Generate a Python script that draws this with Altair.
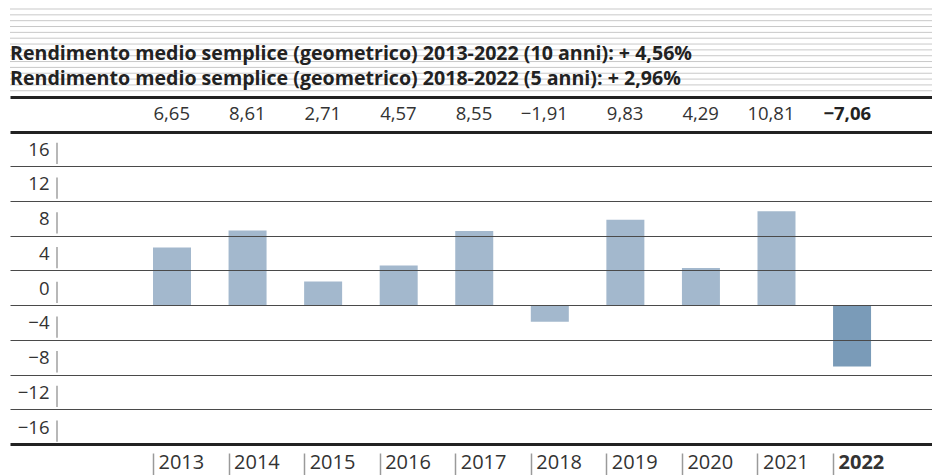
import altair as alt
import pandas as pd

# ---- data ----
years = [2013, 2014, 2015, 2016, 2017, 2018, 2019, 2020, 2021, 2022]
returns = [6.65, 8.61, 2.71, 4.57, 8.55, -1.91, 9.83, 4.29, 10.81, -7.06]
value_labels = ["6,65", "8,61", "2,71", "4,57", "8,55", "\u22121,91", "9,83", "4,29", "10,81", "\u22127,06"]
title_lines = [
    "Rendimento medio semplice (geometrico) 2013-2022 (10 anni): + 4,56%",
    "Rendimento medio semplice (geometrico) 2018-2022 (5 anni): + 2,96%",
]
grid_values = [-16, -12, -8, -4, 0, 4, 8, 12, 16, 20, 24]
label_values = [-16, -12, -8, -4, 0, 4, 8, 12, 16]
highlight_year = 2022

df = pd.DataFrame({"year": years, "ret": returns, "label": value_labels})
df_titles = pd.DataFrame({"i": list(range(len(title_lines))), "text": title_lines})
df_pipes = pd.DataFrame({"v": label_values})

W, H = 922, 434
FONT = "Open Sans"
LIGHT = "#a3b8cd"
DARK = "#7a9bb8"

x_scale = alt.Scale(domain=[2010.856, 2023.058], nice=False, zero=False, padding=0)
y_scale = alt.Scale(domain=[-16, 34], nice=False, zero=False, padding=0)

thick = "datum.value == 24 || datum.value == 20 || datum.value == -16"

x_axis = alt.Axis(values=years, format="d", title=None, domain=False, grid=False,
                  ticks=True, tickSize=24, tickColor="#9a9a9a", tickWidth=1.5,
                  tickOffset=-19, offset=9,
                  labelAlign="left", labelOffset=5, labelPadding=-25,
                  labelBaseline="top", labelFontSize=20, labelColor="#333333",
                  labelFlush=False, labelOverlap=False,
                  labelFontWeight=alt.condition(f"datum.value == {highlight_year}",
                                                alt.value("bold"), alt.value("normal")))

y_axis = alt.Axis(values=grid_values, title=None, domain=False, ticks=False, grid=True,
                  gridColor=alt.condition(thick, alt.value("#222222"), alt.value("#4a4a4a")),
                  gridWidth=alt.condition(thick, alt.value(3), alt.value(1.2)),
                  labelExpr="datum.value > 16 ? '' : datum.label",
                  labelAlign="right", labelBaseline="middle", labelPadding=-39,
                  labelOffset=-17, labelFontSize=18.5, labelColor="#333333",
                  labelFlush=False, labelOverlap=False, zindex=1)

X = alt.X("year:Q", scale=x_scale, axis=x_axis)

bars = alt.Chart(df).mark_bar(size=38).encode(
    x=X,
    y=alt.Y("ret:Q", scale=y_scale, axis=y_axis),
    color=alt.condition(f"datum.year == {highlight_year}", alt.value(DARK), alt.value(LIGHT)),
)

vals_normal = alt.Chart(df).transform_filter(f"datum.year != {highlight_year}").mark_text(
    fontSize=18.5, color="#333333", baseline="middle", align="right", dx=18
).encode(x=X, y=alt.datum(22), text="label:N")

vals_bold = alt.Chart(df).transform_filter(f"datum.year == {highlight_year}").mark_text(
    fontSize=18.5, color="#222222", baseline="middle", align="right", dx=19, fontWeight="bold"
).encode(x=X, y=alt.datum(22), text="label:N")

pipes = alt.Chart(df_pipes).transform_calculate(
    lo="datum.v + 0.25", hi="datum.v + 2.7"
).mark_rule(color="#a0a0a0", strokeWidth=1.5).encode(
    y=alt.Y("lo:Q", scale=y_scale, axis=y_axis), y2="hi:Q", x=alt.value(47)
)

# decorative header: thin rules and the two bold title lines (pixel placement)
header_lines = alt.Chart(alt.sequence(0, 15, as_="i")).transform_calculate(
    py="datum.i * 5.84 - 1"
).mark_rule(color="#c9c9c9", strokeWidth=1).encode(
    y=alt.Y("py:Q", scale=None, axis=None), x=alt.value(0), x2=alt.value(W)
)

titles = alt.Chart(df_titles).transform_calculate(
    py="50 + datum.i * 25"
).mark_text(fontSize=19.6, fontWeight="bold", color="#222222", align="left",
            baseline="alphabetic").encode(
    y=alt.Y("py:Q", scale=None, axis=None), x=alt.value(0), text="text:N"
)

main = alt.layer(bars, vals_normal, vals_bold, pipes)

chart = alt.layer(header_lines, titles, main).resolve_scale(y="independent").properties(
    width=W, height=H,
    autosize=alt.AutoSizeParams(type="none"),
    padding={"left": 2, "top": 2, "right": 0, "bottom": 31},
).configure(font=FONT).configure_view(strokeWidth=0)

chart.save("out.html", embed_options={"renderer": "svg", "actions": False})
